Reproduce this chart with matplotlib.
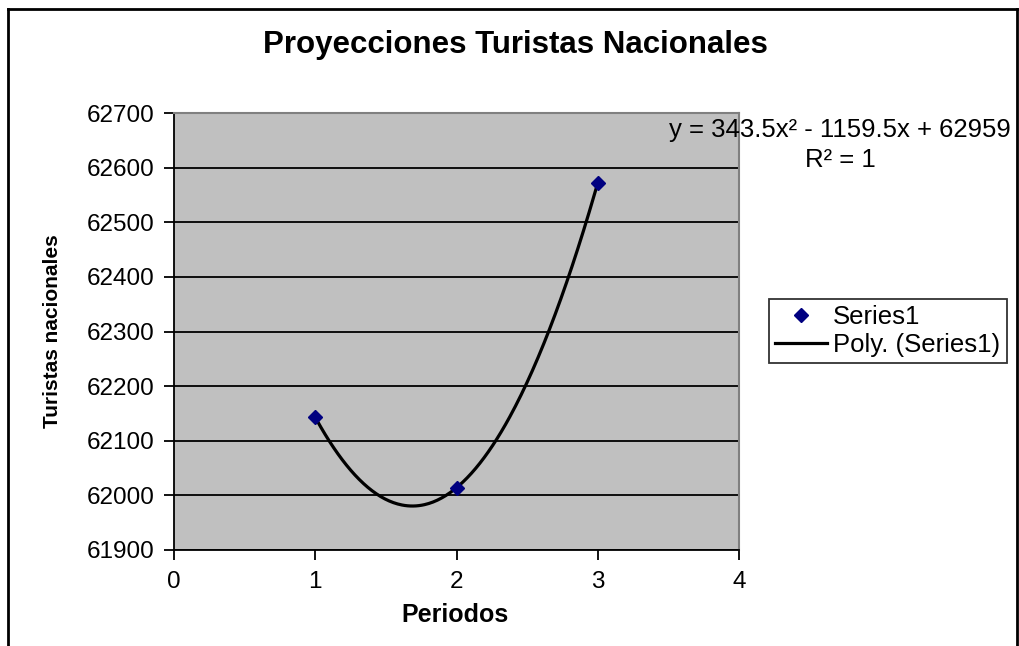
import numpy as np
import matplotlib
matplotlib.use('Agg')
import matplotlib.pyplot as plt
from matplotlib.font_manager import fontManager

# data
periodos = [1, 2, 3]
turistas = [62143, 62014, 62572]
y_ticks = [61900, 62000, 62100, 62200, 62300, 62400, 62500, 62600, 62700]
x_ticks = [0, 1, 2, 3, 4]

names = {f.name for f in fontManager.ttflist}
base = 'Liberation Sans' if 'Liberation Sans' in names else 'DejaVu Sans'
plt.rcParams['font.family'] = [base, 'DejaVu Sans']

fig = plt.figure(figsize=(10.19, 6.46), dpi=100)
W, H = 1019, 646
ax = fig.add_axes([174 / W, 1 - 550 / H, (739 - 174) / W, (550 - 113) / H])
ax.set_facecolor('#c0c0c0')

# polynomial trend line (order 2) fitted to the series
coef = np.polyfit(periodos, turistas, 2)
xs = np.linspace(periodos[0], periodos[-1], 200)
ax.plot(xs, np.polyval(coef, xs), color='black', lw=2.3, label='Poly. (Series1)', zorder=3)
ax.plot(periodos, turistas, linestyle='none', marker='D', ms=7, color='#000080',
        label='Series1', zorder=4)

ax.set_xlim(0, 4)
ax.set_ylim(61900, 62700)
ax.set_xticks(x_ticks)
ax.set_yticks(y_ticks)
ax.yaxis.grid(True, color='black', lw=1.3)
ax.set_axisbelow(True)
ax.tick_params(direction='out', length=7, width=1.3, labelsize=17.5, color='black')
ax.tick_params(axis='y', pad=7)
ax.tick_params(axis='x', pad=8)
for s in ['top', 'right']:
    ax.spines[s].set_color('#808080')
    ax.spines[s].set_linewidth(1.5)
for s in ['left', 'bottom']:
    ax.spines[s].set_color('black')
    ax.spines[s].set_linewidth(1.3)

fig.text(455 / W, 1 - 615 / H, 'Periodos', ha='center', va='center',
         fontsize=18, fontweight='bold')
fig.text(53 / W, 1 - 331 / H, 'Turistas nacionales', ha='center', va='center',
         rotation=90, fontsize=15, fontweight='bold')

fig.text(515 / W, 1 - 45 / H, 'Proyecciones Turistas Nacionales', ha='center', va='center',
         fontsize=22.5, fontweight='bold')
fig.text(840 / W, 1 - 145 / H, 'y = 343.5x² - 1159.5x + 62959\nR² = 1', ha='center',
         va='center', multialignment='center', fontsize=18.5, linespacing=1.35)

h, l = ax.get_legend_handles_labels()
leg = fig.legend(h[::-1], l[::-1], loc='center left', bbox_to_anchor=(769 / W, 1 - 331 / H),
                 fontsize=18.5, frameon=True, fancybox=False, edgecolor='black',
                 handlelength=2.0, handletextpad=0.25, borderpad=0.25, labelspacing=0.15,
                 borderaxespad=0)
leg.get_frame().set_linewidth(1.3)

# chart area border
fig.add_artist(plt.Line2D([8 / W, 8 / W], [0, 1 - 9 / H], color='black', lw=2,
                          transform=fig.transFigure))
fig.add_artist(plt.Line2D([8 / W, 1017 / W], [1 - 9 / H, 1 - 9 / H], color='black', lw=2,
                          transform=fig.transFigure))
fig.add_artist(plt.Line2D([1017 / W, 1017 / W], [0, 1 - 9 / H], color='black', lw=2,
                          transform=fig.transFigure))

fig.savefig('out.png', dpi=100)
